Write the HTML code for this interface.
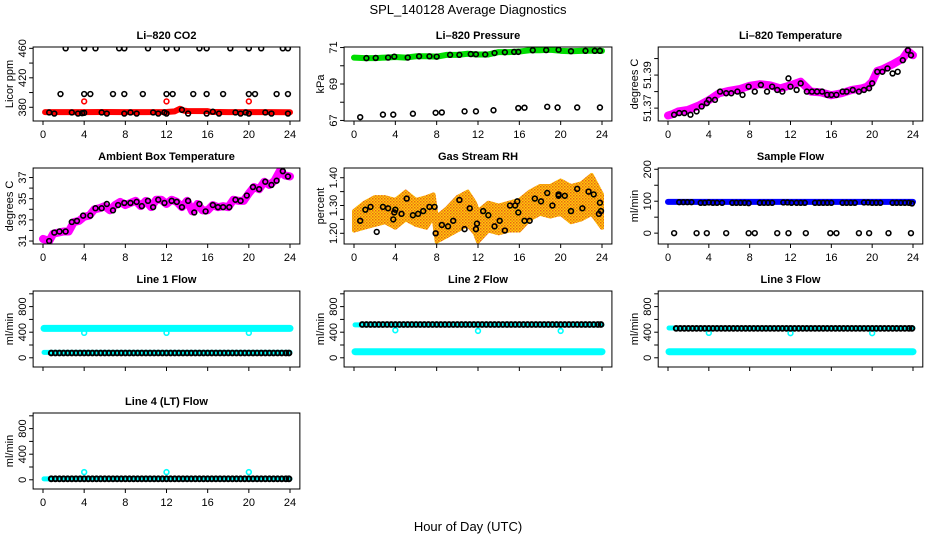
<!DOCTYPE html>
<html><head><meta charset="utf-8"><title>SPL_140128 Average Diagnostics</title>
<style>
html,body{margin:0;padding:0;background:#fff;}
svg{display:block;font-family:"Liberation Sans",sans-serif;}
</style></head>
<body>
<svg id="chart" width="936" height="540" viewBox="0 0 936 540" xmlns="http://www.w3.org/2000/svg">
<defs>
<pattern id="rhpat" width="3" height="3" patternUnits="userSpaceOnUse">
<rect width="3" height="3" fill="#ffd000"/>
<rect x="0" y="0" width="1.5" height="1.5" fill="#e8601a"/>
<rect x="1.5" y="1.5" width="1.5" height="1.5" fill="#f08020"/>
</pattern>
</defs>
<text x="468" y="14" font-size="13" text-anchor="middle">SPL_140128  Average Diagnostics</text>
<text x="468" y="531" font-size="13" text-anchor="middle">Hour of Day (UTC)</text>
</svg>
<script>
// ---------- shared sample times ----------
const flowTimes = [0.8,1.2,1.6,2.0,2.4,2.8,3.2,3.6,4.0,4.4,4.8,5.2,5.6,6.0,6.4,6.8,7.2,7.6,8.0,8.4,8.8,9.2,9.6,10.0,10.4,10.8,11.2,11.6,12.0,12.4,12.8,13.2,13.6,14.0,14.4,14.8,15.2,15.6,16.0,16.4,16.8,17.2,17.6,18.0,18.4,18.8,19.2,19.6,20.0,20.4,20.8,21.2,21.6,22.0,22.4,22.8,23.2,23.6,23.9];
const dipTimes = [4,12,20];
const xTicks = [0,4,8,12,16,20,24];
const lineT = [0.1,4,4.1,12,12.1,20,20.1,24];

// ---------- CO2 ----------
const co2RedT = [0.2,2,4,6,8,10,12,12.8,13.3,13.7,14,16,16.3,18,20,22,24];
const co2RedV = [373.5,373.5,373.4,373.6,373.5,373.5,373.6,374.5,378,375.5,375,374.8,373.8,373.5,373.5,373.4,373.3];
const co2RedPtV = [388,388,388];
const co2HiT = [2.2,4,5.1,7.4,7.9,10.2,12,13,15.2,15.9,18.2,20,21.2,23.3,23.8];
const co2MidT = [1.7,4,4.6,6.8,7.9,9.7,12,12.6,14.6,15.9,17.5,20,20.6,22.7,23.8];
const co2LowT = [0.6,1.1,2.8,3.4,3.8,4,5.7,6.2,7.9,8.5,9.1,10.7,11.2,11.8,12,13.5,14.1,15.9,16.5,17.1,18.7,19.2,19.7,20,21.6,22.2,23.8];
const co2LowV = [373,371.5,373,371.5,372,372.5,373,371.5,371.5,373,371.5,373,371.5,373,371.5,376.5,371.5,371.5,374,371.5,373,371.5,373,371.5,373,371.5,371.5];

// ---------- Pressure ----------
const presT = [0,1,2,3,4,5,6,7,8,9,10,11,12,13,14,15,16,17,18,19,20,21,22,23,24];
const presV = [70.45,70.42,70.42,70.45,70.48,70.45,70.52,70.52,70.5,70.6,70.6,70.66,70.62,70.62,70.75,70.75,70.78,70.85,70.85,70.88,70.82,70.8,70.82,70.83,70.82];
const presBlkT = [1.2,2.1,3.3,3.9,5.2,6.3,7.3,8,9.3,10.2,11.3,11.8,12.7,13.6,14.6,15.5,15.9,17.3,18.6,19.8,21,22.4,23.3,23.8];
const presBlkV = [70.42,70.43,70.45,70.5,70.45,70.52,70.52,70.5,70.6,70.6,70.64,70.63,70.62,70.7,70.74,70.76,70.76,70.85,70.86,70.88,70.8,70.82,70.82,70.82];
const presLowT = [0.6,2.8,3.8,5.7,7.9,8.5,10.7,11.8,13.5,15.9,16.5,18.7,19.7,21.6,23.8];
const presLowV = [67.18,67.32,67.32,67.37,67.42,67.44,67.5,67.5,67.56,67.68,67.7,67.75,67.71,67.71,67.71];

// ---------- Li-820 Temperature ----------
const ltT = [0,0.5,1,2,3,4,5,6,7,8,9,10,11,12,13,14,15,16,17,18,19,19.5,20,20.5,21,22,23,23.5,24];
const ltV = [51.3655,51.3665,51.368,51.369,51.3715,51.3748,51.379,51.3805,51.3815,51.3835,51.3845,51.3838,51.382,51.3838,51.386,51.380,51.3795,51.3778,51.379,51.381,51.382,51.383,51.386,51.3925,51.3935,51.3965,51.400,51.4045,51.402];
const ltBlkT = [0.6,1.1,1.6,2.2,2.8,3.3,3.8,4,4.6,5.1,5.7,6.2,6.8,7.3,7.9,8.5,9.1,9.7,10.2,10.7,11.2,11.8,12,12.6,13,13.6,14.1,14.6,15.1,15.6,16,16.5,17.1,17.5,18.1,18.7,19.2,19.7,20,20.5,21,21.5,22,22.5,23,23.5,23.8];
const ltBlkV = [51.366,51.367,51.367,51.366,51.368,51.371,51.373,51.375,51.375,51.380,51.379,51.379,51.380,51.378,51.383,51.380,51.384,51.380,51.383,51.381,51.380,51.388,51.383,51.381,51.385,51.380,51.380,51.380,51.380,51.378,51.378,51.378,51.380,51.380,51.381,51.380,51.381,51.382,51.385,51.392,51.392,51.394,51.391,51.392,51.399,51.405,51.402];

// ---------- Ambient Box Temperature ----------
const ambT = [0,0.6,1,1.5,2,2.5,3,3.5,4,4.5,5,5.5,6,6.5,7,7.5,8,8.5,9,9.5,10,10.5,11,11.5,12,12.5,13,13.5,14,14.5,15,15.5,16,16.5,17,17.5,18,18.5,19,19.5,20,20.5,21,21.5,22,22.5,23,23.5,24];
const ambV = [31.2,31.0,31.7,31.8,31.9,31.9,32.8,32.9,33.3,33.4,34.0,34.1,34.3,33.9,34.4,34.7,34.4,34.6,34.8,34.3,34.8,34.2,34.9,34.9,34.5,34.9,34.7,34.2,34.8,33.8,34.5,33.9,33.9,34.4,34.2,34.3,34.2,34.9,34.8,34.8,35.5,36.1,35.9,36.6,36.3,36.7,37.6,37.2,37.1];
const ambBlkT = [0.6,1.1,1.6,2.2,2.8,3.3,3.9,4.6,5.1,5.7,6.2,6.8,7.3,7.9,8.5,9.1,9.6,10.2,10.7,11.2,11.8,12.5,13,13.5,14.1,14.7,15.2,15.8,16.5,17,17.5,18.1,18.7,19.2,19.8,20.4,21,21.6,22.2,22.7,23.3,23.8];
const ambBlkV = [31.0,31.8,31.9,31.9,32.8,32.9,33.4,33.4,34.1,34.1,34.5,33.9,34.4,34.6,34.6,34.7,34.3,34.8,34.2,34.9,34.6,34.8,34.7,34.2,34.8,33.7,34.5,33.8,34.4,34.2,34.2,34.2,34.9,34.8,35.3,36.1,35.9,36.6,36.3,36.7,37.6,37.1];

// ---------- Gas Stream RH ----------
const rhT = [0,1,2,3,4,5,6,7,7.7,8,9,10,11,11.7,12,13,14,15,16,17,18,19,20,21,22,23,24];
const rhLow = [1.21,1.22,1.23,1.24,1.22,1.25,1.23,1.22,1.26,1.17,1.19,1.21,1.23,1.20,1.17,1.21,1.20,1.21,1.21,1.25,1.27,1.26,1.27,1.24,1.25,1.27,1.22];
const rhHigh = [1.28,1.31,1.33,1.33,1.32,1.35,1.32,1.33,1.34,1.26,1.29,1.33,1.35,1.31,1.28,1.31,1.30,1.31,1.32,1.35,1.37,1.37,1.39,1.37,1.38,1.41,1.34];
const rhBlkT = [0.6,1.1,1.6,2.2,2.8,3.3,3.8,3.9,4,4.6,5.1,5.7,6.2,6.7,7.3,7.8,7.9,8.5,9.1,9.6,10.2,10.7,11.2,11.8,11.9,12.5,13,13.6,14.1,14.6,15.1,15.6,15.8,15.9,16.5,17,17.5,18.1,18.7,19.2,19.8,19.8,20.4,21,21.6,22.1,22.7,23.2,23.7,23.8,23.9];
const rhBlkV = [1.245,1.285,1.295,1.205,1.295,1.29,1.25,1.275,1.285,1.27,1.325,1.265,1.27,1.28,1.295,1.295,1.2,1.23,1.225,1.245,1.32,1.215,1.29,1.215,1.235,1.28,1.265,1.225,1.245,1.21,1.3,1.3,1.315,1.275,1.245,1.245,1.325,1.315,1.345,1.3,1.335,1.34,1.335,1.28,1.36,1.29,1.35,1.34,1.27,1.31,1.28];

// ---------- Sample Flow ----------
const sfT = [0,24];
const sfV = [98,98];
const sfBlkT = [1.1,1.5,1.9,2.3,3.2,3.6,4,4.4,4.8,5.3,6.3,6.7,7.1,7.5,7.9,9,9.4,9.8,10.2,11.3,11.7,12.1,12.6,13,13.4,14.4,14.8,15.2,15.6,16,17.1,17.5,17.9,18.3,19.2,19.6,20,20.4,20.8,22,22.4,22.8,23.2,23.6,23.9];
const sfBlkV = [97,97,97,97,95,95,96,95,95,95,95,95,95,95,94,95,95,95,95,96,96,95,95,95,95,95,95,95,95,95,95,95,95,95,96,96,95,95,95,95,95,95,95,95,93];
const sfZeroT = [0.6,2.8,3.8,5.7,7.9,8.5,10.7,11.8,13.5,15.9,16.5,18.7,19.7,21.6,23.8];
const sfZeroV = [0,0,0,0,0,0,0,0,0,0,0,0,0,0,0];

// ---------- Line flows ----------
const l1HighV = [460,460,460,460,460,460,460,460];
const l1LowV = [85,85,85,85,85,85,85,85];
const l1BlkV = 75;
const l1DipV = [390,390,390];
const l2HighV = [515,515,515,515,515,515,515,515];
const l2LowV = [95,95,95,95,95,95,95,95];
const l2BlkV = 520;
const l2DipV = [430,420,420];
const l3HighV = [465,465,465,465,465,465,465,465];
const l3LowV = [95,95,95,95,95,95,95,95];
const l3BlkV = 460;
const l3DipV = [390,385,385];
const l4HighV = [15,15,15,15,15,15,15,15];
const l4BlkV = 15;
const l4DipV = [120,120,120];

// ---------- layout ----------
const colX0 = [43,354,668], colX24 = [290,602,913];
const rowTop = [47,168,291,413], rowBot = [121,244,367,489];
const svg = document.getElementById('chart');
const NS = 'http://www.w3.org/2000/svg';
function mk(tag, attrs, parent){const e=document.createElementNS(NS,tag);for(const k in attrs)e.setAttribute(k,attrs[k]);(parent||svg).appendChild(e);return e;}

function panel(cfg){
  const g = mk('g',{});
  
  
  const x0=colX0[cfg.col], x24=colX24[cfg.col], top=rowTop[cfg.row], bot=rowBot[cfg.row];
  const sx = v => x0 + (x24-x0)*v/24;
  const sy = v => bot - (bot-top)*(v-cfg.ylim[0])/(cfg.ylim[1]-cfg.ylim[0]);
  const left=sx(-0.96), right=sx(24.96);
  const t = mk('text',{x:(left+right)/2,y:top-8,'font-size':11,'font-weight':'bold','text-anchor':'middle'},g);
  t.textContent = cfg.title;
  
  
  cfg.yticks.forEach((v,i)=>{
    const y=sy(v);
    mk('line',{x1:left-4,x2:left,y1:y,y2:y,stroke:'#000','stroke-width':1},g);
    if(cfg.ylabels[i]!==''){
      const tl=mk('text',{transform:`translate(${left-7},${y}) rotate(-90)`,'font-size':11,'text-anchor':'middle'},g);
      tl.textContent=cfg.ylabels[i];
      
      
    }
  });
  const yl=mk('text',{transform:`translate(${left-20},${(top+bot)/2}) rotate(-90)`,'font-size':11,'text-anchor':'middle'},g);
  yl.textContent=cfg.ylab;
  
  
  xTicks.forEach(v=>{
    const x=sx(v);
    mk('line',{x1:x,x2:x,y1:bot,y2:bot+4,stroke:'#000','stroke-width':1},g);
    if(cfg.showX){
      const tl=mk('text',{x:x,y:bot+17,'font-size':11,'text-anchor':'middle'},g);
      tl.textContent=v;
      
      
    }
  });
  const clip = 'clip'+cfg.name;
  const cp = mk('clipPath',{id:clip},g);
  mk('rect',{x:left,y:top,width:right-left,height:bot-top},cp);
  const plot = mk('g',{'clip-path':`url(#${clip})`},g);
  cfg.draw(plot, sx, sy);
  const box=mk('rect',{x:left,y:top,width:right-left,height:bot-top,fill:'none',stroke:'#000','stroke-width':1},g);
  
  
}
function line(p, sx, sy, ts, vs, color, w, name){
  const pl = mk('polyline',{points:ts.map((t,i)=>sx(t)+','+sy(vs[i])).join(' '),fill:'none',stroke:color,'stroke-width':w,'stroke-linejoin':'round','stroke-linecap':'round'},p);
  
  
}
function pts(p, sx, sy, ts, vs, color, name, sw){
  ts.forEach((t,i)=>{
    const v = Array.isArray(vs)?vs[i]:vs;
    const c = mk('circle',{cx:sx(t),cy:sy(v),r:2.4,fill:'none',stroke:color,'stroke-width':sw||1.6},p);
    
    
  });
}
function band(p, sx, sy, ts, lo, hi, name){
  const ptsStr = ts.map((t,i)=>sx(t)+','+sy(hi[i])).concat(ts.slice().reverse().map((t,i)=>sx(t)+','+sy(lo[ts.length-1-i]))).join(' ');
  const pg = mk('polygon',{points:ptsStr,fill:'url(#rhpat)',stroke:'url(#rhpat)','stroke-width':4,'stroke-linejoin':'round'},p);
  
  
}
const flowTicks=[0,200,400,600,800,1000], flowLabels=['0','','400','','800',''];

panel({name:'co2-panel',col:0,row:0,title:'Li\u2013820 CO2',ylab:'Licor ppm',ylim:[361.4,461.8],yticks:[380,400,420,440,460],ylabels:['380','','420','','460'],showX:true,
  draw:(p,sx,sy)=>{line(p,sx,sy,co2RedT,co2RedV,'#ff0000',6,'co2-series');pts(p,sx,sy,dipTimes,co2RedPtV,'#ff0000','co2-red-point');
  pts(p,sx,sy,co2HiT,460,'#000','co2-point');pts(p,sx,sy,co2MidT,398,'#000','co2-point');pts(p,sx,sy,co2LowT,co2LowV,'#000','co2-point');}});
panel({name:'pressure-panel',col:1,row:0,title:'Li\u2013820 Pressure',ylab:'kPa',ylim:[66.97,71.03],yticks:[67,68,69,70,71],ylabels:['67','','69','','71'],showX:true,
  draw:(p,sx,sy)=>{line(p,sx,sy,presT,presV,'#00dd00',6,'pressure-series');pts(p,sx,sy,presBlkT,presBlkV,'#000','pressure-point');pts(p,sx,sy,presLowT,presLowV,'#000','pressure-point');}});
panel({name:'li820-temp-panel',col:2,row:0,title:'Li\u2013820 Temperature',ylab:'degrees C',ylim:[51.3622,51.407],yticks:[51.37,51.38,51.39,51.40],ylabels:['51.37','','51.39',''],showX:true,
  draw:(p,sx,sy)=>{line(p,sx,sy,ltT,ltV,'#ff00ff',8,'li820-temp-series');pts(p,sx,sy,ltBlkT,ltBlkV,'#000','li820-temp-point');}});
panel({name:'ambient-temp-panel',col:0,row:1,title:'Ambient Box Temperature',ylab:'degrees C',ylim:[30.72,37.9],yticks:[31,32,33,34,35,36,37],ylabels:['31','','33','','35','','37'],showX:true,
  draw:(p,sx,sy)=>{line(p,sx,sy,ambT,ambV,'#ff00ff',8,'ambient-temp-series');pts(p,sx,sy,ambBlkT,ambBlkV,'#000','ambient-temp-point');}});
panel({name:'rh-panel',col:1,row:1,title:'Gas Stream RH',ylab:'percent',ylim:[1.1615,1.435],yticks:[1.20,1.25,1.30,1.35,1.40],ylabels:['1.20','','1.30','','1.40'],showX:true,
  draw:(p,sx,sy)=>{band(p,sx,sy,rhT,rhLow,rhHigh,'rh-band');pts(p,sx,sy,rhBlkT,rhBlkV,'#000','rh-point');}});
panel({name:'sample-flow-panel',col:2,row:1,title:'Sample Flow',ylab:'ml/min',ylim:[-34,204],yticks:[0,50,100,150,200],ylabels:['0','','100','','200'],showX:true,
  draw:(p,sx,sy)=>{line(p,sx,sy,sfT,sfV,'#0000ff',6,'sample-flow-series');pts(p,sx,sy,sfBlkT,sfBlkV,'#000','sample-flow-point');pts(p,sx,sy,sfZeroT,sfZeroV,'#000','sample-flow-point');}});
panel({name:'line1-flow-panel',col:0,row:2,title:'Line 1 Flow',ylab:'ml/min',ylim:[-144,1044],yticks:flowTicks,ylabels:flowLabels,showX:false,
  draw:(p,sx,sy)=>{line(p,sx,sy,lineT,l1HighV,'#00ffff',7,'line1-high-series');line(p,sx,sy,lineT,l1LowV,'#00ffff',5,'line1-low-series');
  pts(p,sx,sy,dipTimes,l1DipV,'#00ffff','line1-dip-point');pts(p,sx,sy,flowTimes,l1BlkV,'#000','line1-point',2);}});
panel({name:'line2-flow-panel',col:1,row:2,title:'Line 2 Flow',ylab:'ml/min',ylim:[-144,1044],yticks:flowTicks,ylabels:flowLabels,showX:false,
  draw:(p,sx,sy)=>{line(p,sx,sy,lineT,l2HighV,'#00ffff',5,'line2-high-series');line(p,sx,sy,lineT,l2LowV,'#00ffff',7,'line2-low-series');
  pts(p,sx,sy,dipTimes,l2DipV,'#00ffff','line2-dip-point');pts(p,sx,sy,flowTimes,l2BlkV,'#000','line2-point',2);}});
panel({name:'line3-flow-panel',col:2,row:2,title:'Line 3 Flow',ylab:'ml/min',ylim:[-144,1044],yticks:flowTicks,ylabels:flowLabels,showX:false,
  draw:(p,sx,sy)=>{line(p,sx,sy,lineT,l3HighV,'#00ffff',5,'line3-high-series');line(p,sx,sy,lineT,l3LowV,'#00ffff',7,'line3-low-series');
  pts(p,sx,sy,dipTimes,l3DipV,'#00ffff','line3-dip-point');pts(p,sx,sy,flowTimes,l3BlkV,'#000','line3-point',2);}});
panel({name:'line4-flow-panel',col:0,row:3,title:'Line 4 (LT) Flow',ylab:'ml/min',ylim:[-144,1044],yticks:flowTicks,ylabels:flowLabels,showX:true,
  draw:(p,sx,sy)=>{line(p,sx,sy,lineT,l4HighV,'#00ffff',5,'line4-series');
  pts(p,sx,sy,dipTimes,l4DipV,'#00ffff','line4-dip-point');pts(p,sx,sy,flowTimes,l4BlkV,'#000','line4-point',2);}});
</script>
</body></html>
